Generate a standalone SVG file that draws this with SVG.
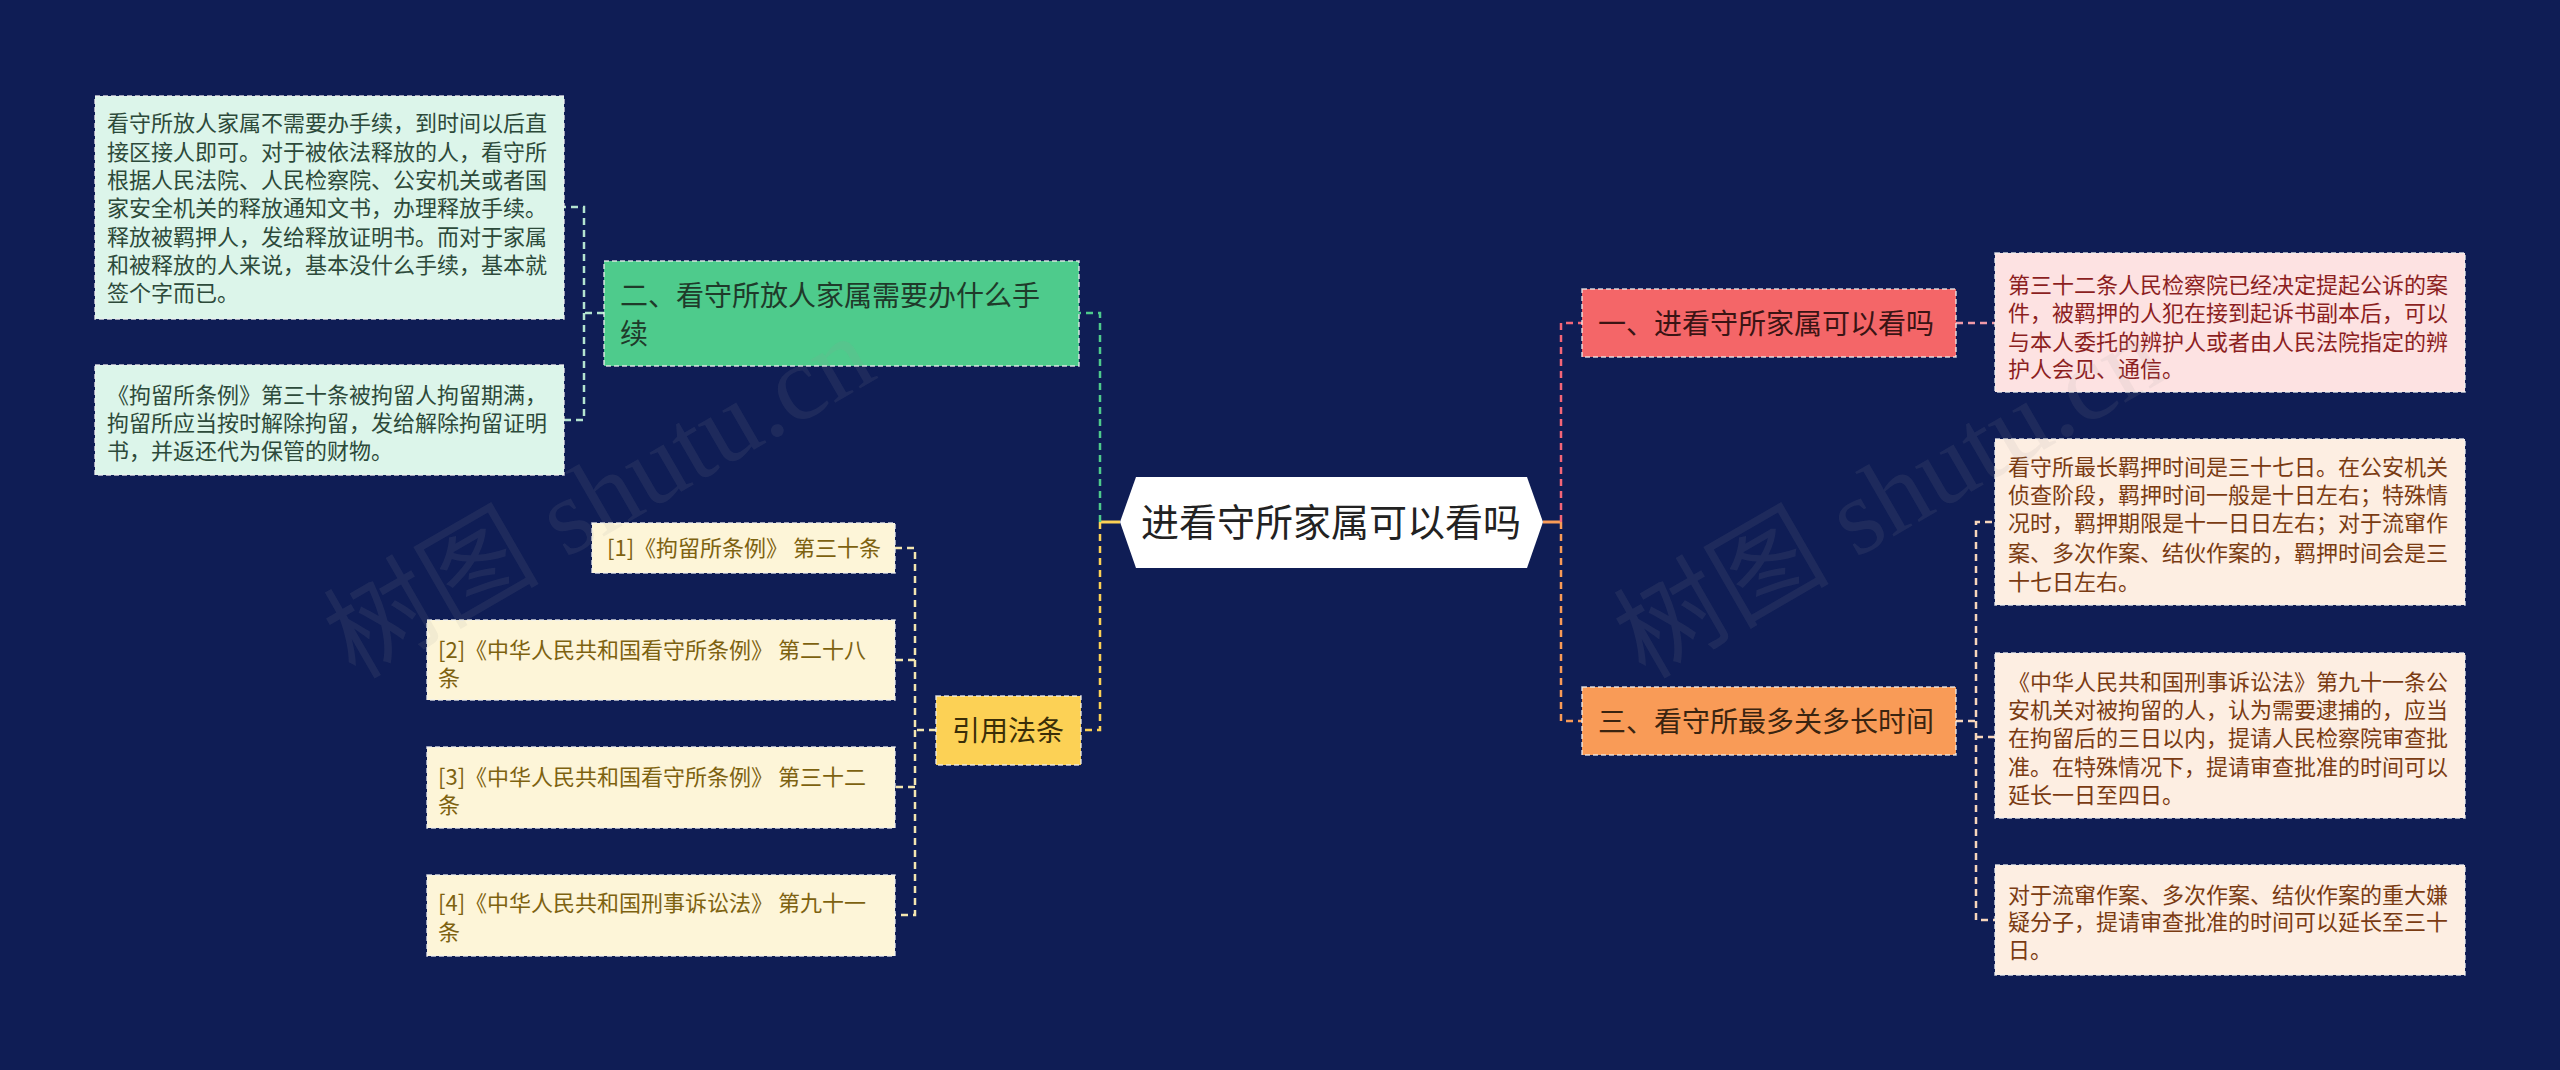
<svg xmlns="http://www.w3.org/2000/svg" width="2560" height="1070" viewBox="0 0 2560 1070">
<style>
text{font-family:"Noto Sans CJK SC","Liberation Sans",sans-serif;}
.bd{stroke:#f0f0f0;stroke-opacity:0.85;stroke-width:1.5;stroke-dasharray:5 3;}
.c{fill:none;stroke-width:2.5;stroke-dasharray:7 5;}
.t22{font-size:22px;}
.t28{font-size:28px;}
.wm{font-family:"Liberation Serif","Noto Sans CJK SC",serif;font-size:108px;fill:#9a9a9a;fill-opacity:0.11;}
</style>
<rect width="2560" height="1070" fill="#0f1d55"/>
<g id="connectors">
<line x1="1100" y1="522" x2="1120" y2="522" stroke="#fcd155" stroke-width="3"/>
<line x1="1543" y1="522" x2="1561" y2="522" stroke="#f99b57" stroke-width="3"/>
<path class="c" d="M1100,522 V313 H1079" stroke="#4ecb8c"/>
<path class="c" d="M1100,522 V730 H1081" stroke="#fcd155"/>
<path class="c" d="M1561,522 V323 H1582" stroke="#f46678"/>
<path class="c" d="M1561,522 V721 H1582" stroke="#f99b57"/>
<path class="c" d="M604,313 H584 V207 H564 M584,313 V420 H564" stroke="#b4e4d0"/>
<path class="c" d="M936,730 H915 V548 H895 M915,730 V915 H895 M915,660 H895 M915,787 H895" stroke="#f3e6b0"/>
<path class="c" d="M1956,323 H1995" stroke="#f09aa8"/>
<path class="c" d="M1956,721 H1976 V522 H1995 M1976,721 V920 H1995 M1976,737 H1995" stroke="#f7d6bc"/>
</g>
<g id="center">
<polygon points="1120,522 1136,477 1527,477 1543,522 1527,568 1136,568" fill="#ffffff"/>
<text x="1331" y="536" font-size="38" text-anchor="middle" fill="#222222">进看守所家属可以看吗</text>
</g>
<g id="n2">
<rect class="bd" x="604" y="261" width="475" height="105" fill="#4ecb8c"/>
<text class="t28" fill="#1f3a2a"><tspan x="620" y="306">二、看守所放人家属需要办什么手</tspan><tspan x="620" y="344">续</tspan></text>
</g>
<g id="n2a">
<rect class="bd" x="95" y="96" width="469" height="223" fill="#dcf5ea"/>
<text class="t22" fill="#2d4a3a"><tspan x="107" y="131">看守所放人家属不需要办手续，到时间以后直</tspan><tspan x="107" y="160">接区接人即可。对于被依法释放的人，看守所</tspan><tspan x="107" y="188">根据人民法院、人民检察院、公安机关或者国</tspan><tspan x="107" y="216">家安全机关的释放通知文书，办理释放手续。</tspan><tspan x="107" y="245">释放被羁押人，发给释放证明书。而对于家属</tspan><tspan x="107" y="273">和被释放的人来说，基本没什么手续，基本就</tspan><tspan x="107" y="301">签个字而已。</tspan></text>
</g>
<g id="n2b">
<rect class="bd" x="95" y="365" width="469" height="110" fill="#dcf5ea"/>
<text class="t22" fill="#2d4a3a"><tspan x="107" y="403">《拘留所条例》第三十条被拘留人拘留期满，</tspan><tspan x="107" y="431">拘留所应当按时解除拘留，发给解除拘留证明</tspan><tspan x="107" y="459">书，并返还代为保管的财物。</tspan></text>
</g>
<g id="n3">
<rect class="bd" x="936" y="696" width="145" height="69" fill="#fcd155"/>
<text class="t28" x="1008" y="741" text-anchor="middle" fill="#3a2e08">引用法条</text>
</g>
<g id="r1">
<rect class="bd" x="592" y="523" width="303" height="50" fill="#fdf5d8"/>
<text class="t22" x="607" y="556" fill="#7d6210">[1]《拘留所条例》 第三十条</text>
</g>
<g id="r2">
<rect class="bd" x="427" y="620" width="468" height="80" fill="#fdf5d8"/>
<text class="t22" fill="#7d6210"><tspan x="438" y="658">[2]《中华人民共和国看守所条例》 第二十八</tspan><tspan x="438" y="686">条</tspan></text>
</g>
<g id="r3">
<rect class="bd" x="427" y="747" width="468" height="81" fill="#fdf5d8"/>
<text class="t22" fill="#7d6210"><tspan x="438" y="785">[3]《中华人民共和国看守所条例》 第三十二</tspan><tspan x="438" y="813">条</tspan></text>
</g>
<g id="r4">
<rect class="bd" x="427" y="875" width="468" height="81" fill="#fdf5d8"/>
<text class="t22" fill="#7d6210"><tspan x="438" y="911">[4]《中华人民共和国刑事诉讼法》 第九十一</tspan><tspan x="438" y="940">条</tspan></text>
</g>
<g id="n1">
<rect class="bd" x="1582" y="289" width="374" height="68" fill="#f46668"/>
<text class="t28" x="1598" y="334" fill="#3a1414">一、进看守所家属可以看吗</text>
</g>
<g id="n1a">
<rect class="bd" x="1995" y="253" width="470" height="139" fill="#fde2e2"/>
<text class="t22" fill="#8c1f1f"><tspan x="2008" y="293">第三十二条人民检察院已经决定提起公诉的案</tspan><tspan x="2008" y="321">件，被羁押的人犯在接到起诉书副本后，可以</tspan><tspan x="2008" y="350">与本人委托的辨护人或者由人民法院指定的辨</tspan><tspan x="2008" y="377">护人会见、通信。</tspan></text>
</g>
<g id="n4">
<rect class="bd" x="1582" y="687" width="374" height="68" fill="#f99b57"/>
<text class="t28" x="1598" y="732" fill="#3a2410">三、看守所最多关多长时间</text>
</g>
<g id="n4a">
<rect class="bd" x="1995" y="439" width="470" height="166" fill="#fdeee2"/>
<text class="t22" fill="#7a3b12"><tspan x="2008" y="475">看守所最长羁押时间是三十七日。在公安机关</tspan><tspan x="2008" y="503">侦查阶段，羁押时间一般是十日左右；特殊情</tspan><tspan x="2008" y="531">况时，羁押期限是十一日日左右；对于流窜作</tspan><tspan x="2008" y="561">案、多次作案、结伙作案的，羁押时间会是三</tspan><tspan x="2008" y="590">十七日左右。</tspan></text>
</g>
<g id="n4b">
<rect class="bd" x="1995" y="653" width="470" height="165" fill="#fdeee2"/>
<text class="t22" fill="#7a3b12"><tspan x="2008" y="690">《中华人民共和国刑事诉讼法》第九十一条公</tspan><tspan x="2008" y="718">安机关对被拘留的人，认为需要逮捕的，应当</tspan><tspan x="2008" y="746">在拘留后的三日以内，提请人民检察院审查批</tspan><tspan x="2008" y="775">准。在特殊情况下，提请审查批准的时间可以</tspan><tspan x="2008" y="803">延长一日至四日。</tspan></text>
</g>
<g id="n4c">
<rect class="bd" x="1995" y="865" width="470" height="110" fill="#fdeee2"/>
<text class="t22" fill="#7a3b12"><tspan x="2008" y="903">对于流窜作案、多次作案、结伙作案的重大嫌</tspan><tspan x="2008" y="930">疑分子，提请审查批准的时间可以延长至三十</tspan><tspan x="2008" y="958">日。</tspan></text>
</g>
<g id="watermarks">
<text class="wm" x="355" y="680" transform="rotate(-30 355 680)">树图 shutu.cn</text>
<text class="wm" x="1645" y="680" transform="rotate(-30 1645 680)">树图 shutu.cn</text>
</g>
</svg>
